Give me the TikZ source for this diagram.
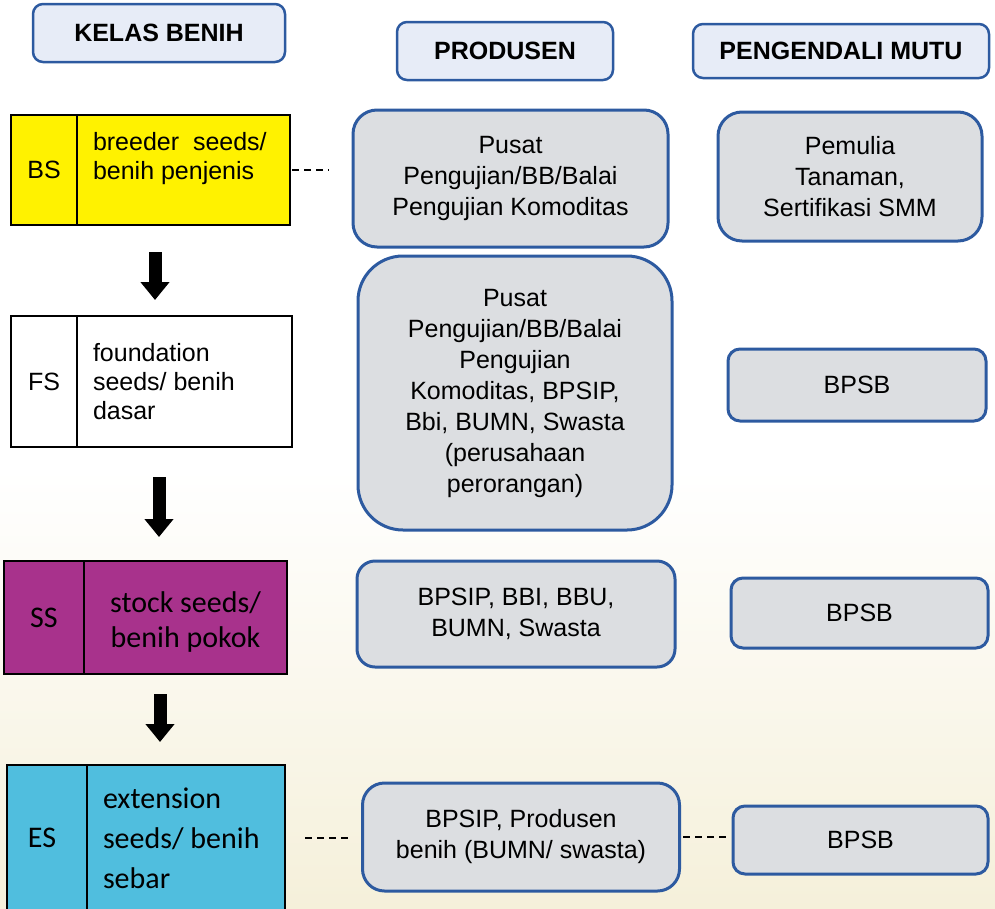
\documentclass[tikz,border=0pt]{standalone}
\usepackage{fontspec}
\setmainfont{Liberation Sans}
\newfontfamily\calibrifont{Carlito}
\definecolor{FrameColor}{RGB}{45,90,160}
\definecolor{HeadColor}{RGB}{231,236,247}
\definecolor{BoxColor}{RGB}{220,222,225}
\definecolor{BSColor}{RGB}{255,242,0}
\definecolor{SSColor}{RGB}{168,50,140}
\definecolor{ESColor}{RGB}{80,190,222}
\definecolor{FieldColor}{RGB}{245,240,218}
\usetikzlibrary{positioning, arrows.meta, calc}
\tikzstyle{header} = [draw=FrameColor, line width=2.5pt, fill=HeadColor, rounded corners=10pt, font=\fontsize{25}{29}\selectfont\bfseries]
\tikzstyle{actor} = [draw=FrameColor, line width=3pt, fill=BoxColor, rounded corners=24pt, align=center, inner sep=0pt, font=\fontsize{25}{31}\selectfont]
\tikzstyle{classtag} = [draw=black, line width=2pt, anchor=north west, inner sep=0pt, outer sep=0pt, font=\fontsize{25}{29}\selectfont]
\tikzstyle{classtext} = [draw=black, line width=2pt, inner xsep=16pt, inner ysep=0pt, outer sep=0pt, align=flush left, font=\fontsize{25}{29}\selectfont]
\tikzstyle{flowarrow} = [line width=13pt, -{Triangle[width=28pt, length=18pt]}]
\tikzstyle{dashlink} = [line width=2pt, dash pattern=on 7pt off 5pt]

\begin{document}
\begin{tikzpicture}[x=1pt, y=-1pt]
    \useasboundingbox (0,0) rectangle (995,908);
    % faint field behind the lower half
    \fill[top color=white, bottom color=FieldColor] (0,470) rectangle (995,908);

    % column headers
    \node[header, minimum width=252pt, minimum height=58pt] (kelas) at (159,33) {KELAS BENIH};
    \node[header, minimum width=216pt, minimum height=58pt] (produsen) at (505,51) {PRODUSEN};
    \node[header, minimum width=296pt, minimum height=54pt] (mutu) at (841,51) {PENGENDALI MUTU};

    % seed classes
    \node[classtag, fill=BSColor, minimum width=66pt, minimum height=110pt] (bs) at (11,115) {BS};
    \node[classtext, fill=BSColor, text width=181pt, minimum height=110pt, text depth=57pt, right=0pt of bs] (bsdesc) {breeder\ \ seeds/\\benih penjenis};

    \node[classtag, fill=white, minimum width=66pt, minimum height=131pt] (fs) at (11,316) {FS};
    \node[classtext, fill=white, text width=183pt, minimum height=131pt, right=0pt of fs] (fsdesc) {foundation\\seeds/ benih\\dasar};

    \node[classtag, fill=SSColor, font=\calibrifont\fontsize{30}{35}\selectfont, minimum width=80pt, minimum height=113pt] (ss) at (4,561) {SS};
    \node[classtext, fill=SSColor, font=\calibrifont\fontsize{30}{35}\selectfont, text width=171pt, align=flush center, minimum height=113pt, text depth=30pt, right=0pt of ss] (ssdesc) {stock seeds/\\benih pokok};

    \node[classtag, fill=ESColor, font=\calibrifont\fontsize{30}{40}\selectfont, minimum width=80pt, minimum height=146pt] (es) at (7,765) {ES\hspace*{10pt}};
    \node[classtext, fill=ESColor, font=\calibrifont\fontsize{30}{40}\selectfont, text width=166pt, minimum height=146pt, right=0pt of es] (esdesc) {extension\\seeds/ benih\\sebar};

    \draw[flowarrow, shorten <=27pt, shorten >=16pt] ([xshift=78pt]bsdesc.south west) -- ([xshift=78pt]fsdesc.north west);
    \draw[flowarrow, shorten <=30pt, shorten >=24pt] ([xshift=82pt]fsdesc.south west) -- ([xshift=75pt]ssdesc.north west);
    \draw[flowarrow, shorten <=20pt, shorten >=23pt] ([xshift=76pt]ssdesc.south west) -- ([xshift=73pt]esdesc.north west);

    % producers
    \node[actor, minimum width=315pt, minimum height=137pt] (pc1) at (510.5,178.5) {Pusat\\Pengujian/BB/Balai\\Pengujian Komoditas};
    \node[actor, rounded corners=45pt, minimum width=314pt, minimum height=274pt] (pc2) at (515,393) {Pusat\\Pengujian/BB/Balai\\Pengujian\\Komoditas, BPSIP,\\Bbi, BUMN, Swasta\\(perusahaan\\perorangan)};
    \node[actor, rounded corners=18pt, minimum width=318pt, minimum height=106pt] (pc3) at (516,614) {BPSIP, BBI, BBU,\\BUMN, Swasta};
    \node[actor, rounded corners=22pt, minimum width=317pt, minimum height=108pt] (pc4) at (521,837) {BPSIP, Produsen\\benih (BUMN/ swasta)};

    % quality control
    \node[actor, minimum width=264pt, minimum height=129pt] (qc1) at (850,176.5) {Pemulia\\Tanaman,\\Sertifikasi SMM};
    \node[actor, rounded corners=12pt, minimum width=258pt, minimum height=72pt] (qc2) at (857,385) {BPSB};
    \node[actor, rounded corners=12pt, minimum width=257pt, minimum height=70pt] (qc3) at (859.5,613) {BPSB};
    \node[actor, rounded corners=12pt, minimum width=255pt, minimum height=68pt] (qc4) at (860.5,840) {BPSB};

    \draw[dashlink, shorten <=2pt, shorten >=23pt] (bsdesc.east) -- (bsdesc.east -| pc1.west);
    \draw[dashlink, shorten <=20pt, shorten >=10pt] (esdesc.east) -- (esdesc.east -| pc4.west);
    \draw[dashlink, shorten <=2pt, shorten >=4pt] (pc4.east) -- (pc4.east -| qc4.west);
\end{tikzpicture}
\end{document}
